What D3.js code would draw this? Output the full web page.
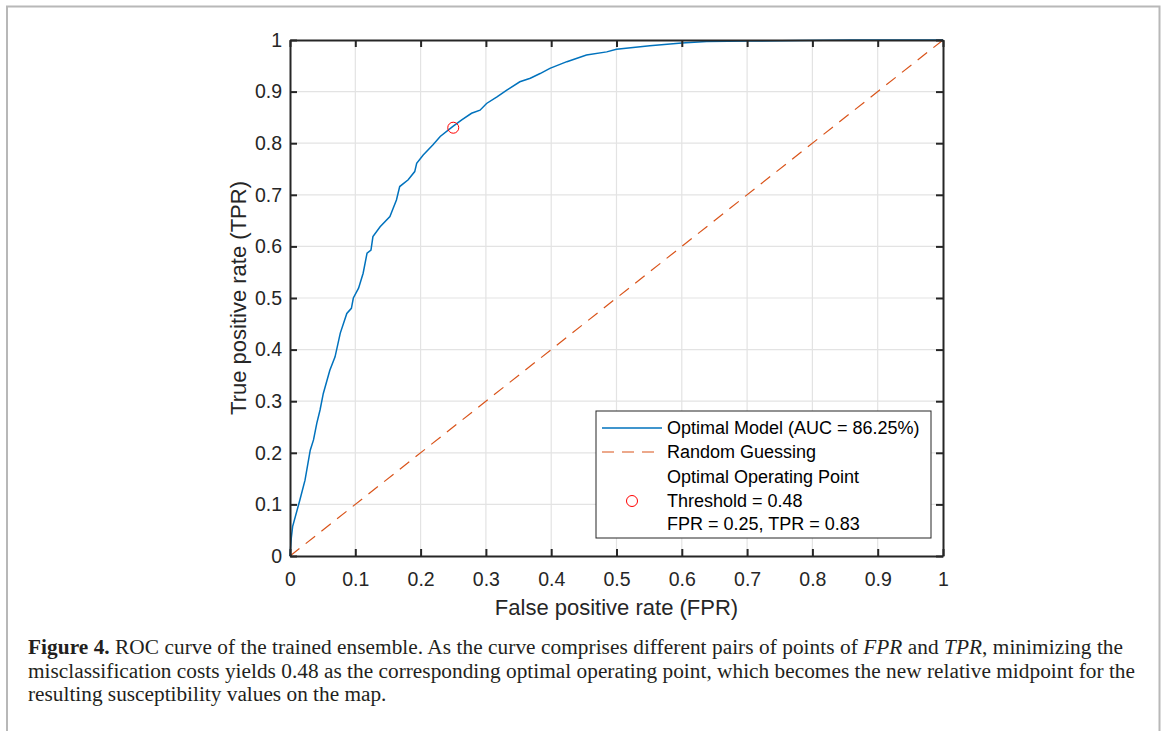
<!DOCTYPE html>
<html>
<head>
<meta charset="utf-8">
<script src="https://cdn.jsdelivr.net/npm/d3@7"></script>
<style>
  body { margin: 0; background: #fff; }
  svg { display: block; }
</style>
</head>
<body>
<div id="wrapper"></div>
<script>
// ROC curve points (FPR, TPR)
const rocFpr = [0, 0.002, 0.004, 0.015, 0.023, 0.031, 0.036, 0.041, 0.046, 0.051, 0.061, 0.069,
  0.077, 0.087, 0.094, 0.097, 0.105, 0.112, 0.118, 0.124, 0.127, 0.138, 0.153, 0.158, 0.163,
  0.168, 0.181, 0.191, 0.194, 0.204, 0.219, 0.230, 0.249, 0.263, 0.278, 0.291, 0.301, 0.317,
  0.332, 0.352, 0.368, 0.383, 0.398, 0.424, 0.454, 0.485, 0.500, 0.551, 0.600, 0.638, 0.704,
  0.781, 0.858, 1];
const rocTpr = [0, 0.035, 0.057, 0.108, 0.147, 0.205, 0.225, 0.257, 0.283, 0.315, 0.360, 0.386,
  0.432, 0.470, 0.480, 0.500, 0.519, 0.548, 0.587, 0.593, 0.619, 0.638, 0.658, 0.674, 0.690,
  0.716, 0.729, 0.745, 0.761, 0.777, 0.797, 0.813, 0.832, 0.845, 0.858, 0.864, 0.877, 0.890,
  0.903, 0.919, 0.926, 0.935, 0.945, 0.958, 0.971, 0.977, 0.982, 0.989, 0.994, 0.997, 0.998,
  0.999, 1.0, 1];
const randomFpr = [0, 1];
const randomTpr = [0, 1];
const optimalPoint = { fpr: 0.25, tpr: 0.83 };
const tickValues = [0, 0.1, 0.2, 0.3, 0.4, 0.5, 0.6, 0.7, 0.8, 0.9, 1];
const legendLabels = ["Optimal Model (AUC = 86.25%)", "Random Guessing",
  "Optimal Operating Point", "Threshold = 0.48", "FPR = 0.25, TPR = 0.83"];

const width = 1167;
const height = 731;
const plot = { left: 290, right: 943, top: 40, bottom: 556 };

const svg = d3.select("#wrapper").append("svg")
  .attr("width", width)
  .attr("height", height);

// page frame
svg.append("path")
  .attr("d", `M7,${height} V6.5 H1159.5 V${height}`)
  .attr("fill", "none")
  .attr("stroke", "#b8b8b8")
  .attr("stroke-width", 2);

const xScale = d3.scaleLinear().domain([0, 1]).range([plot.left, plot.right]);
const yScale = d3.scaleLinear().domain([0, 1]).range([plot.bottom, plot.top]);

// grid
const grid = svg.append("g");
grid.selectAll(".gx").data(tickValues.slice(1, -1)).join("line")
  .attr("x1", d => xScale(d)).attr("x2", d => xScale(d))
  .attr("y1", plot.top).attr("y2", plot.bottom)
  .attr("stroke", "#e3e3e3").attr("stroke-width", 1.2);
grid.selectAll(".gy").data(tickValues.slice(1, -1)).join("line")
  .attr("y1", d => yScale(d)).attr("y2", d => yScale(d))
  .attr("x1", plot.left).attr("x2", plot.right)
  .attr("stroke", "#e3e3e3").attr("stroke-width", 1.2);

// random guessing line
svg.append("path")
  .datum(randomFpr.map((f, i) => [f, randomTpr[i]]))
  .attr("d", d3.line().x(d => xScale(d[0])).y(d => yScale(d[1])))
  .attr("fill", "none")
  .attr("stroke", "#D95319")
  .attr("stroke-width", 1.2)
  .attr("stroke-dasharray", "12 8");

// ROC curve
svg.append("path")
  .datum(rocFpr.map((f, i) => [f, rocTpr[i]]))
  .attr("d", d3.line().x(d => xScale(d[0])).y(d => yScale(d[1])))
  .attr("fill", "none")
  .attr("stroke", "#0072BD")
  .attr("stroke-width", 1.5);

// optimal point
svg.append("circle")
  .attr("cx", xScale(optimalPoint.fpr))
  .attr("cy", yScale(optimalPoint.tpr))
  .attr("r", 5.5)
  .attr("fill", "none")
  .attr("stroke", "#ff0000")
  .attr("stroke-width", 1);

// axes
const font = "'Liberation Sans', Arial, Helvetica, sans-serif";
const fmt = d => d === 0 ? "0" : d === 1 ? "1" : d3.format(".1f")(d);

const xAxis = svg.append("g")
  .attr("transform", `translate(0,${plot.bottom})`)
  .call(d3.axisBottom(xScale).tickValues(tickValues).tickFormat(fmt).tickSizeInner(-7).tickSizeOuter(0).tickPadding(16));
const xAxisTop = svg.append("g")
  .attr("transform", `translate(0,${plot.top})`)
  .call(d3.axisTop(xScale).tickValues(tickValues).tickFormat("").tickSizeInner(-7).tickSizeOuter(0));
const yAxis = svg.append("g")
  .attr("transform", `translate(${plot.left},0)`)
  .call(d3.axisLeft(yScale).tickValues(tickValues).tickFormat(fmt).tickSizeInner(-7).tickSizeOuter(0).tickPadding(8));
const yAxisRight = svg.append("g")
  .attr("transform", `translate(${plot.right},0)`)
  .call(d3.axisRight(yScale).tickValues(tickValues).tickFormat("").tickSizeInner(-7).tickSizeOuter(0));

[xAxis, xAxisTop, yAxis, yAxisRight].forEach(ax => {
  ax.select(".domain").attr("stroke", "#262626").attr("stroke-width", 2);
  ax.selectAll(".tick line").attr("stroke", "#262626").attr("stroke-width", 2);
  ax.selectAll(".tick text").attr("fill", "#262626")
    .style("font-family", font).style("font-size", "19.5px");
});

// axis labels
svg.append("text")
  .attr("x", (plot.left + plot.right) / 2)
  .attr("y", 615)
  .attr("text-anchor", "middle")
  .attr("fill", "#262626")
  .style("font-family", font).style("font-size", "22px")
  .text("False positive rate (FPR)");
svg.append("text")
  .attr("transform", `translate(246,${(plot.top + plot.bottom) / 2}) rotate(-90)`)
  .attr("text-anchor", "middle")
  .attr("fill", "#262626")
  .style("font-family", font).style("font-size", "22px")
  .text("True positive rate (TPR)");

// legend
const legend = svg.append("g").attr("transform", "translate(596,411)");
legend.append("rect")
  .attr("width", 335).attr("height", 127)
  .attr("fill", "#fff").attr("stroke", "#262626").attr("stroke-width", 1);
const rowY = [17, 41, 66, 90, 113];
legend.selectAll("text").data(legendLabels).join("text")
  .attr("x", 71)
  .attr("y", (d, i) => rowY[i])
  .attr("dy", "0.35em")
  .attr("fill", "#000")
  .style("font-family", font).style("font-size", "18px")
  .text(d => d);
legend.append("line")
  .attr("x1", 6).attr("x2", 66).attr("y1", rowY[0]).attr("y2", rowY[0])
  .attr("stroke", "#0072BD").attr("stroke-width", 1.5);
legend.append("line")
  .attr("x1", 6).attr("x2", 66).attr("y1", rowY[1]).attr("y2", rowY[1])
  .attr("stroke", "#D95319").attr("stroke-width", 1.2).attr("stroke-dasharray", "12 8");
legend.append("circle")
  .attr("cx", 36).attr("cy", rowY[3]).attr("r", 5.5)
  .attr("fill", "none").attr("stroke", "#ff0000").attr("stroke-width", 1);

// caption
const captionLines = [
  [["Figure 4.", "bold"], [" ROC curve of the trained ensemble. As the curve comprises different pairs of points of ", ""], ["FPR", "italic"], [" and ", ""], ["TPR", "italic"], [", minimizing the", ""]],
  [["misclassification costs yields 0.48 as the corresponding optimal operating point, which becomes the new relative midpoint for the", ""]],
  [["resulting susceptibility values on the map.", ""]]
];
const captionWidths = [1095, 1107, null];
captionLines.forEach((parts, i) => {
  const line = svg.append("text")
    .attr("x", 28)
    .attr("y", 654 + i * 23.5)
    .attr("fill", "#231f20")
    .style("font-family", "'Liberation Serif', 'Times New Roman', serif")
    .style("font-size", "21.3px");
  if (captionWidths[i]) line.attr("textLength", captionWidths[i]).attr("lengthAdjust", "spacing");
  parts.forEach(([t, s]) => {
    const ts = line.append("tspan").text(t);
    if (s === "bold") ts.style("font-weight", "bold");
    if (s === "italic") ts.style("font-style", "italic");
  });
});
</script>
</body>
</html>
